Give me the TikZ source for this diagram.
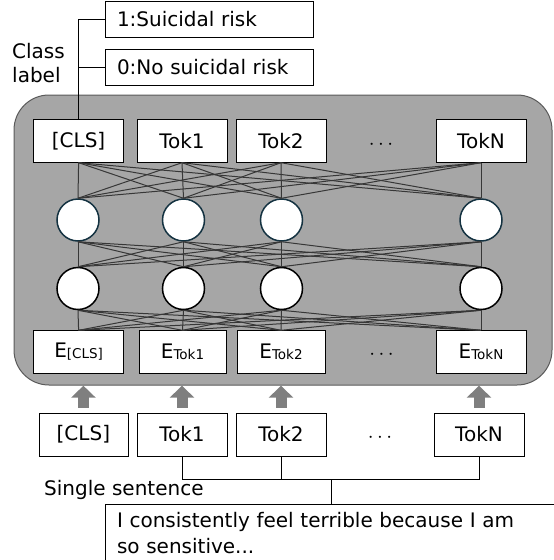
\documentclass[tikz,border=0pt]{standalone}
\usepackage{fontspec}
\setmainfont{DejaVu Sans}
\usetikzlibrary{arrows.meta}
\definecolor{bertgray}{RGB}{166,166,166}
\definecolor{bertedge}{RGB}{90,90,90}
\definecolor{wiregray}{RGB}{55,55,55}
\definecolor{arrowgray}{RGB}{127,127,127}
\definecolor{unitedge}{RGB}{20,50,65}
\newcommand{\emb}[1]{E{\fontsize{13.5}{13.5}\selectfont\raisebox{-1pt}{#1}}}
\begin{document}
\begin{tikzpicture}[x=1pt, y=-1pt,
    tok/.style={draw, fill=white, minimum width=90, minimum height=43, inner sep=0,
        font=\fontsize{20}{20}\selectfont},
    unit/.style={circle, draw=unitedge, line width=1.5pt, fill=white, minimum size=42, inner sep=0},
    lbl/.style={draw, text width=184, align=left, inner xsep=12, minimum height=36,
        font=\fontsize{20}{20}\selectfont},
    txt/.style={font=\fontsize{20}{24}\selectfont, inner sep=0},
    dots/.style={font=\fontsize{20}{20}\selectfont, inner sep=0},
    wire/.style={draw=wiregray, line width=1pt},
    feed/.style={draw=arrowgray, line width=11pt, -{Triangle[width=24pt, length=12pt]},
        shorten >=12pt, shorten <=5pt}]

    \useasboundingbox (0,0) rectangle (554,560);
    \clip (0,0) rectangle (554,560);

    % BERT block
    \draw[fill=bertgray, draw=bertedge, line width=1pt, rounded corners=35] (14,95) rectangle (552,385);

    % Class label
    \node[lbl] (lab1) at (209,19.5) {1:Suicidal risk};
    \node[lbl] (lab0) at (209,67) {0:No suicidal risk};
    \node[txt, align=left, anchor=west] (clab) at (12,63) {Class\\label};

    % Output tokens
    \node[tok] (tcls) at (78.6,141) {[CLS]};
    \node[tok] (t1) at (182,141) {Tok1};
    \node[tok] (t2) at (281,141) {Tok2};
    \node[tok] (tn) at (481,141) {TokN};
    \node[dots] (tdots) at (381,145) {$\cdots$};

    % Hidden units
    \node[unit] (ha1) at (78,220) {};
    \node[unit] (ha2) at (183.5,220) {};
    \node[unit] (ha3) at (281.5,220) {};
    \node[unit] (ha4) at (481,220) {};
    \node[unit, draw=black] (hb1) at (78,288.5) {};
    \node[unit, draw=black] (hb2) at (183.5,288.5) {};
    \node[unit, draw=black] (hb3) at (281.5,288.5) {};
    \node[unit, draw=black] (hb4) at (481,288.5) {};

    % Embeddings
    \node[tok] (ecls) at (78.6,352) {\emb{[CLS]}};
    \node[tok, minimum width=87] (e1) at (182.5,352) {\emb{Tok1}};
    \node[tok, minimum width=88] (e2) at (281,352) {\emb{Tok2}};
    \node[tok] (en) at (481,352) {\emb{TokN}};
    \node[dots] (edots) at (381.5,355) {$\cdots$};

    % Input tokens
    \node[tok, minimum width=89] (xcls) at (83.4,434.5) {[CLS]};
    \node[tok] (x1) at (182,434.5) {Tok1};
    \node[tok] (x2) at (281,434.5) {Tok2};
    \node[tok] (xn) at (479,434.5) {TokN};
    \node[dots] (xdots) at (380,438) {$\cdots$};

    % Fully connected layers
    \foreach \a in {tcls,t1,t2,tn}
        \foreach \b in {ha1,ha2,ha3,ha4}
            \draw[wire] (\a.south) -- (\b.north);
    \foreach \a in {ha1,ha2,ha3,ha4}
        \foreach \b in {hb1,hb2,hb3,hb4}
            \draw[wire] (\a.south) -- (\b.north);
    \foreach \a in {hb1,hb2,hb3,hb4}
        \foreach \b in {ecls,e1,e2,en}
            \draw[wire] (\a.south) -- (\b.north);

    % Class label bracket
    \draw[line width=1pt] (tcls.north) -- (tcls.north |- lab1.west) -- (lab1.west);
    \draw[line width=1pt] (tcls.north |- lab0.west) -- (lab0.west);

    % Inputs into embeddings
    \draw[feed] (xcls.north) -- (xcls.north |- ecls.south);
    \draw[feed] (x1.north) -- (x1.north |- e1.south);
    \draw[feed] (x2.north) -- (x2.north |- e2.south);
    \draw[feed] (xn.north) -- (xn.north |- en.south);

    % Single sentence
    \node[txt, anchor=west] (single) at (44,489.5) {Single sentence};
    \node[draw, line width=1pt, anchor=north west, text width=470, align=left,
        inner xsep=11.5, inner ysep=8,
        font=\fontsize{20}{26.5}\selectfont] (sent) at (105,503.6)
        {I consistently feel terrible because I am\\so sensitive...};
    \coordinate (bj) at (331.4,479.6);
    \draw[line width=1pt] (x1.south) |- (bj) -| (xn.south);
    \draw[line width=1pt] (x2.south) -- (x2.south |- bj);
    \draw[line width=1pt] (bj) -- (bj |- sent.north);

\end{tikzpicture}
\end{document}
